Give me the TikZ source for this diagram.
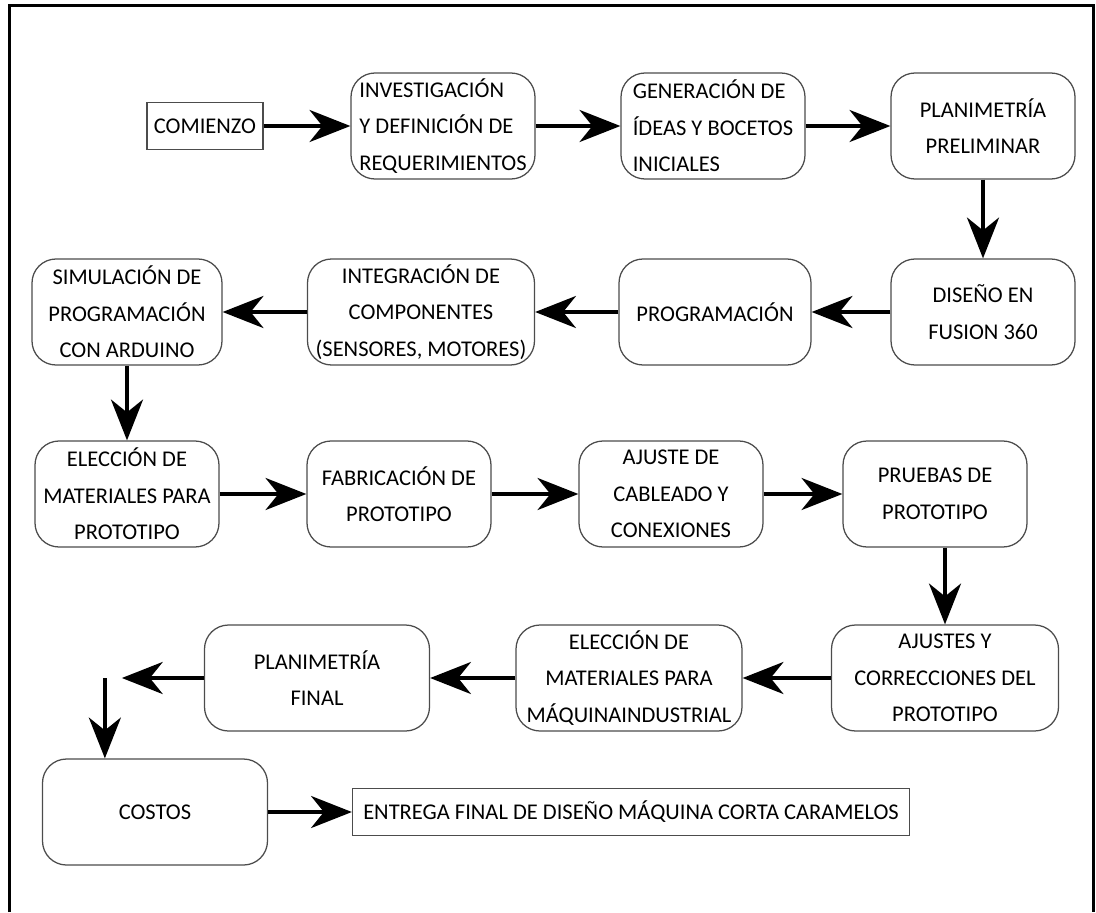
\documentclass[tikz,border=0pt]{standalone}
\usepackage{fontspec}
\setmainfont{Carlito}
\usetikzlibrary{positioning,arrows.meta}

\begin{document}
\begin{tikzpicture}[node distance=6.75cm,on grid,
    font=\fontsize{16}{26}\selectfont,
    etapa/.style={draw=black!70,line width=0.9pt,rounded corners=0.6cm,align=center,
      minimum width=4.6cm,minimum height=2.65cm,inner sep=2pt},
    marca/.style={draw=black!70,line width=0.9pt,align=center,minimum height=1.18cm,inner sep=4pt},
    flecha/.style={-{Stealth[length=1.02cm,width=0.8cm,inset=0.32cm]},line width=0.1cm}]
    \useasboundingbox (0,0) rectangle (27.4,-22.8);
    \coordinate (mi) at (0.225,-22.8);
    \coordinate (ms) at (0.225,-0.125);
    \coordinate (ds) at (27.325,-0.125);
    \coordinate (di) at (27.325,-22.8);
    \draw[line width=0.075cm] (mi) -- (ms) -- (ds) -- (di);

    \node[marca,minimum width=2.9cm] (com) at (5.125,-3.15) {COMIENZO};
    \node[etapa,align=left] (inv) [right=5.95cm of com] {INVESTIGACIÓN\\Y DEFINICIÓN DE\\REQUERIMIENTOS};
    \node[etapa,align=left] (gen) [right=of inv] {GENERACIÓN DE\\ÍDEAS Y BOCETOS\\INICIALES};
    \node[etapa] (pre) [right=of gen] {PLANIMETRÍA\\PRELIMINAR};
    \node[etapa] (dis) [below=4.65cm of pre] {DISEÑO EN\\FUSION 360};
    \node[etapa,minimum width=4.8cm] (pro) [left=6.7cm of dis] {PROGRAMACIÓN};
    \node[etapa,minimum width=5.675cm] (int) [left=7.35cm of pro] {INTEGRACIÓN DE\\COMPONENTES\\(SENSORES, MOTORES)};
    \node[etapa,minimum width=4.75cm] (sim) [left=7.35cm of int] {SIMULACIÓN DE\\PROGRAMACIÓN\\CON ARDUINO};
    \node[etapa] (ele) [below=4.55cm of sim] {ELECCIÓN DE\\MATERIALES PARA\\PROTOTIPO};
    \node[etapa] (fab) [right=6.8cm of ele] {FABRICACIÓN DE\\PROTOTIPO};
    \node[etapa] (aju) [right=6.8cm of fab] {AJUSTE DE\\CABLEADO Y\\CONEXIONES};
    \node[etapa] (pru) [right=6.6cm of aju] {PRUEBAS DE\\PROTOTIPO};
    \node[etapa,minimum width=5.675cm] (cor) [below right=4.6cm and 0.25cm of pru] {AJUSTES Y\\CORRECCIONES DEL\\PROTOTIPO};
    \node[etapa,minimum width=5.65cm] (maq) [left=7.9cm of cor] {ELECCIÓN DE\\MATERIALES PARA\\MÁQUINAINDUSTRIAL};
    \node[etapa,minimum width=5.625cm] (fin) [left=7.8cm of maq] {PLANIMETRÍA\\FINAL};
    \node[etapa,minimum width=5.625cm] (cos) [below left=3.35cm and 4.05cm of fin] {COSTOS};
    \node[marca,minimum width=13.925cm] (ent) [right=11.9cm of cos] {ENTREGA FINAL DE DISEÑO MÁQUINA CORTA CARAMELOS};
    \coordinate[left=2.05cm of fin.west] (finend);
    \coordinate[left=0.425cm of finend] (drop);

    \draw[flecha] (com) -- (inv);
    \draw[flecha] (inv) -- (gen);
    \draw[flecha] (gen) -- (pre);
    \draw[flecha] (pre) -- (dis);
    \draw[flecha] (dis) -- (pro);
    \draw[flecha] (pro) -- (int);
    \draw[flecha] (int) -- (sim);
    \draw[flecha] (sim) -- (ele);
    \draw[flecha] (ele) -- (fab);
    \draw[flecha] (fab) -- (aju);
    \draw[flecha] (aju) -- (pru);
    \draw[flecha] (cor |- pru.south) -- (cor);
    \draw[flecha] (cor) -- (maq);
    \draw[flecha] (maq) -- (fin);
    \draw[flecha] (fin) -- (finend);
    \draw[flecha] (drop) -- (drop |- cos.north);
    \draw[flecha] (cos) -- (ent);
\end{tikzpicture}
\end{document}
